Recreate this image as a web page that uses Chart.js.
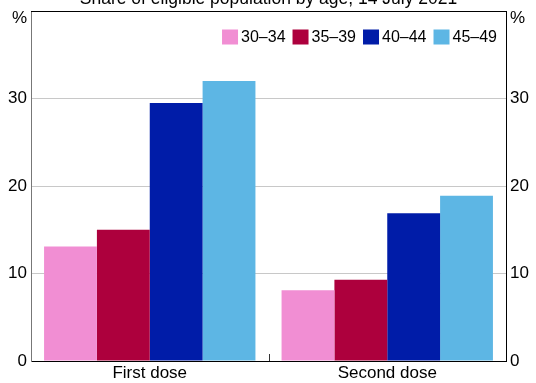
<!DOCTYPE html>
<html lang="en">
<head>
<meta charset="UTF-8">
<title>Share of eligible population by age</title>
<script src="https://cdn.jsdelivr.net/npm/chart.js"></script>
<style>
  body { margin: 0; background: #fff; }
  canvas { display: block; }
</style>
</head>
<body>
<canvas id="chart" width="536" height="383"></canvas>
<script>
// data
const categories = ['First dose', 'Second dose'];
const ageGroups = ['30–34', '35–39', '40–44', '45–49'];
const age30to34 = [13.1, 8.1];
const age35to39 = [15.0, 9.3];
const age40to44 = [29.5, 16.9];
const age45to49 = [32.0, 18.9];
const yTicks = [0, 10, 20, 30];
const titleText = 'Share of eligible population by age, 14 July 2021';

const colors = ['#F18ED3', '#AD003D', '#001CA8', '#5DB6E4'];
const FONT = 'Arial, "Liberation Sans", sans-serif';

// title sits partly above the canvas, plus frame, "%" units, middle tick and legend
const extras = {
  id: 'extras',
  afterDraw(chart) {
    const { ctx, chartArea: a, scales } = chart;
    ctx.save();
    ctx.fillStyle = '#000';
    ctx.font = '17.5px ' + FONT;
    ctx.textAlign = 'center';
    ctx.textBaseline = 'alphabetic';
    ctx.fillText(titleText, (a.left + a.right) / 2, 4);

    // top border
    ctx.strokeStyle = '#000';
    ctx.lineWidth = 1;
    ctx.beginPath();
    ctx.moveTo(a.left, a.top + 0.5);
    ctx.lineTo(a.right, a.top + 0.5);
    ctx.stroke();

    // % units
    ctx.font = '17px ' + FONT;
    ctx.textBaseline = 'middle';
    ctx.textAlign = 'right';
    ctx.fillText('%', a.left - 4, a.top + 7);
    ctx.textAlign = 'left';
    ctx.fillText('%', a.right + 4, a.top + 7);

    // inward tick between the two groups
    const xMid = Math.round((scales.x.getPixelForValue(0) + scales.x.getPixelForValue(1)) / 2) + 0.5;
    ctx.strokeStyle = '#333';
    ctx.beginPath();
    ctx.moveTo(xMid, a.bottom);
    ctx.lineTo(xMid, a.bottom - 7);
    ctx.stroke();

    // legend, right aligned inside the plot
    ctx.font = '16px ' + FONT;
    const box = 16, gapText = 3, gapItem = 7;
    const items = chart.data.datasets.map(d => ({ label: d.label, color: d.backgroundColor, w: ctx.measureText(d.label).width }));
    let total = items.reduce((s, it) => s + box + gapText + it.w, 0) + gapItem * (items.length - 1);
    let x = a.right - 9 - total;
    const yMid = a.top + 26;
    items.forEach(it => {
      ctx.fillStyle = it.color;
      ctx.fillRect(x, yMid - 7.5, box, 15);
      ctx.fillStyle = '#000';
      ctx.textAlign = 'left';
      ctx.fillText(it.label, x + box + gapText, yMid + 1);
      x += box + gapText + it.w + gapItem;
    });
    ctx.restore();
  }
};

const seriesValues = [age30to34, age35to39, age40to44, age45to49];

function fixY(width) {
  return s => {
    s.width = width;
    s.paddingTop = 0;
    s.paddingBottom = 0;
  };
}

new Chart(document.getElementById('chart'), {
  type: 'bar',
  data: {
    labels: categories,
    datasets: ageGroups.map((g, i) => ({
      label: g,
      data: seriesValues[i],
      backgroundColor: colors[i],
      borderWidth: 0,
      barPercentage: 1,
      categoryPercentage: 0.89
    }))
  },
  options: {
    responsive: false,
    animation: false,
    layout: { padding: { top: 11, left: 0, right: 0, bottom: 0 } },
    plugins: {
      legend: { display: false },
      tooltip: { enabled: false }
    },
    scales: {
      x: {
        grid: { display: false, drawTicks: false },
        border: { color: '#000', width: 1 },
        ticks: { color: '#000', font: { size: 17, family: FONT }, padding: 2 },
        afterFit(s) { s.height = 22; }
      },
      y: {
        position: 'left',
        min: 0,
        max: 40,
        afterBuildTicks(s) { s.ticks = yTicks.map(v => ({ value: v })); },
        grid: {
          color: c => (c.tick && c.tick.value > 0 ? '#c8c8c8' : 'rgba(0,0,0,0)'),
          drawTicks: false
        },
        border: { color: '#777', width: 1 },
        ticks: { color: '#000', font: { size: 17, family: FONT }, padding: 4 },
        afterFit: fixY(31)
      },
      y2: {
        position: 'right',
        min: 0,
        max: 40,
        afterBuildTicks(s) { s.ticks = yTicks.map(v => ({ value: v })); },
        grid: { drawOnChartArea: false, drawTicks: false },
        border: { color: '#000', width: 1 },
        ticks: { color: '#000', font: { size: 17, family: FONT }, padding: 4 },
        afterFit: fixY(30)
      }
    }
  },
  plugins: [extras]
});
</script>
</body>
</html>
